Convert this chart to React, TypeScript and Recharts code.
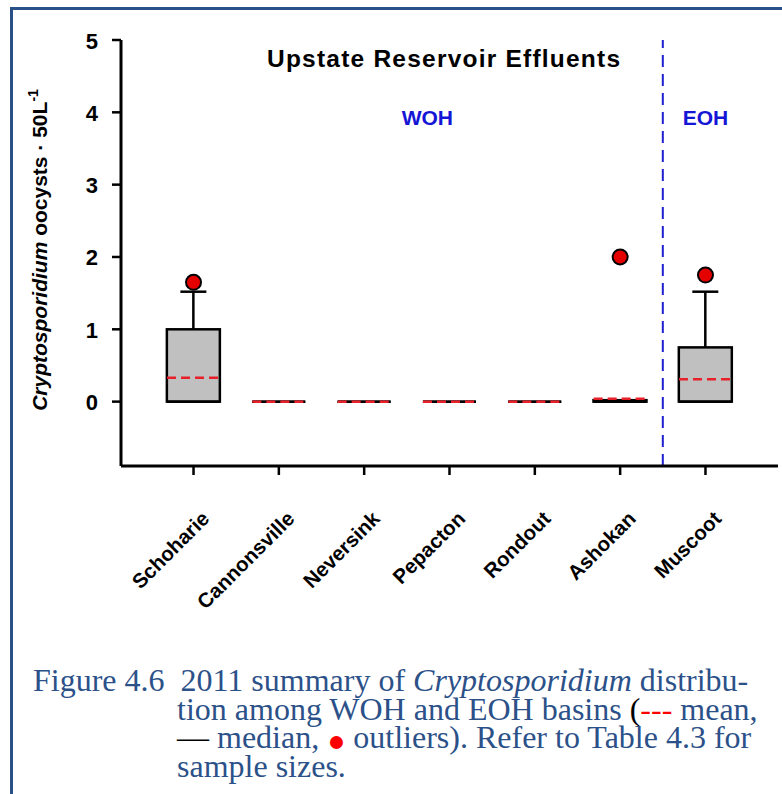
import { ComposedChart, Bar, Scatter, XAxis, YAxis, ReferenceLine, ReferenceDot } from 'recharts';

// reservoirs, WOH first then EOH
const reservoirs = ['Schoharie', 'Cannonsville', 'Neversink', 'Pepacton', 'Rondout', 'Ashokan', 'Muscoot'];
const q1Values = [0, 0, 0, 0, 0, 0, 0];
const q3Values = [1.0, 0, 0, 0, 0, 0.02, 0.75];
const whiskerTops = [1.52, 0, 0, 0, 0, 0.02, 1.52];
const medianValues = [0, 0, 0, 0, 0, 0, 0];
const meanValues = [0.33, 0, 0, 0, 0, 0.04, 0.31];

const outlierSites = ['Schoharie', 'Ashokan', 'Muscoot'];
const outlierValues = [1.65, 2.0, 1.75];

const yTicks = [0, 1, 2, 3, 4, 5];
const basinSplit = 5.5; // between Ashokan and Muscoot

const boxData = reservoirs.map((name, i) => ({
  idx: i,
  name,
  q1: q1Values[i],
  iqr: q3Values[i] - q1Values[i],
  whisk: Math.max(whiskerTops[i] - q3Values[i], 0),
  median: medianValues[i],
  mean: meanValues[i],
}));

const outlierData = outlierSites.map((s, i) => ({ idx: reservoirs.indexOf(s), value: outlierValues[i] }));

const SANS = "Arial, 'Liberation Sans', sans-serif";
const BOX_W = 53;

const BoxShape = (p: any) => {
  const { x, y, width, height } = p;
  if (!height) return <line x1={x} x2={x + width} y1={y} y2={y} stroke="#000" strokeWidth={2.5} />;
  return <rect x={x} y={y} width={width} height={height} fill="#c0c0c0" stroke="#000" strokeWidth={2.5} />;
};

const WhiskerShape = (p: any) => {
  const { x, y, width, height } = p;
  if (!height || height < 0.5) return <g />;
  const cx = x + width / 2;
  return (
    <g stroke="#000" strokeWidth={2.5}>
      <line x1={cx} x2={cx} y1={y} y2={y + height} />
      <line x1={cx - 13} x2={cx + 13} y1={y} y2={y} />
    </g>
  );
};

const MedianShape = (p: any) => (
  <line x1={p.cx - BOX_W / 2} x2={p.cx + BOX_W / 2} y1={p.cy} y2={p.cy} stroke="#000" strokeWidth={2.5} />
);

const MeanShape = (p: any) => (
  <line x1={p.cx - BOX_W / 2} x2={p.cx + BOX_W / 2} y1={p.cy} y2={p.cy} stroke="#e8202a" strokeWidth={2.5} strokeDasharray="9 5" />
);

const OutlierShape = (p: any) => (
  <circle cx={p.cx} cy={p.cy} r={7.5} fill="#e50000" stroke="#000" strokeWidth={2} />
);

const XTick = ({ x, y, payload }: any) => {
  const ax = x + 17;
  const ay = y + 45;
  return (
    <text x={ax} y={ay} transform={`rotate(-45 ${ax} ${ay})`} textAnchor="end"
      fontFamily={SANS} fontWeight="bold" fontSize={20.5} fill="#000">
      {reservoirs[payload.value]}
    </text>
  );
};

const YTick = ({ x, y, payload }: any) => (
  <text x={x} y={y + 8.5} textAnchor="end" fontFamily={SANS} fontWeight="bold" fontSize={22} fill="#000">
    {payload.value}
  </text>
);

const renderYLabel = () => {
  const cx = 47;
  const cy = 250;
  return (
    <text x={cx} y={cy} transform={`rotate(-90 ${cx} ${cy})`} textAnchor="middle"
      fontFamily={SANS} fontWeight="bold" fontSize={21} fill="#000">
      <tspan fontStyle="italic">Cryptosporidium</tspan> oocysts · 50L
      <tspan dy={-9} fontSize={14}>-1</tspan>
    </text>
  );
};

const titleLabel = ({ viewBox }: any) => (
  <text x={viewBox.x + viewBox.width / 2} y={viewBox.y + viewBox.height / 2 + 8.5} textAnchor="middle"
    fontFamily={SANS} fontWeight="bold" fontSize={24.5} fill="#000" textLength={353} lengthAdjust="spacing">
    Upstate Reservoir Effluents
  </text>
);

const basinLabel = (text: string) => ({ viewBox }: any) => (
  <text x={viewBox.x + viewBox.width / 2} y={viewBox.y + viewBox.height / 2 + 8} textAnchor="middle"
    fontFamily={SANS} fontWeight="bold" fontSize={21} fill="#1515d6">
    {text}
  </text>
);

export default function App() {
  return (
    <div style={{ position: 'absolute', left: 0, top: 0, width: 782, height: 794, background: '#fff', overflow: 'hidden' }}>
      {/* page frame */}
      <div style={{ position: 'absolute', left: 10, top: 7, width: 772, height: 3, background: '#2a5088' }} />
      <div style={{ position: 'absolute', left: 10, top: 7, width: 3, height: 787, background: '#2a5088' }} />

      <div style={{ position: 'absolute', left: 0, top: 0 }}>
        <ComposedChart width={782} height={620} data={boxData} margin={{ top: 40, right: 4, left: 0, bottom: 0 }}>
          <XAxis dataKey="idx" type="number" domain={[-0.85, 6.85]} ticks={[0, 1, 2, 3, 4, 5, 6]} interval={0}
            height={154} tickSize={9} tickMargin={0} tick={<XTick />}
            axisLine={{ stroke: '#000', strokeWidth: 3 }} tickLine={{ stroke: '#000', strokeWidth: 2.5 }} />
          <XAxis xAxisId="top" orientation="top" type="number" domain={[-0.85, 6.85]} height={0}
            tick={false} tickLine={false} axisLine={{ stroke: '#000', strokeWidth: 3 }} />
          <YAxis type="number" domain={[-0.89, 5]} ticks={yTicks} interval={0} width={121}
            tickSize={9} tickMargin={14} tick={<YTick />} label={renderYLabel}
            axisLine={{ stroke: '#000', strokeWidth: 3 }} tickLine={{ stroke: '#000', strokeWidth: 2.5 }} />
          <YAxis yAxisId="right" orientation="right" type="number" domain={[-0.89, 5]} width={0}
            tick={false} tickLine={false} axisLine={{ stroke: '#000', strokeWidth: 3 }} />

          <ReferenceLine x={basinSplit} stroke="#2020d0" strokeWidth={2} strokeDasharray="12 7" />

          <Bar dataKey="q1" stackId="box" fill="none" barSize={BOX_W} isAnimationActive={false} />
          <Bar dataKey="iqr" stackId="box" barSize={BOX_W} shape={BoxShape} isAnimationActive={false} />
          <Bar dataKey="whisk" stackId="box" barSize={BOX_W} shape={WhiskerShape} isAnimationActive={false} />

          <Scatter dataKey="median" shape={MedianShape} isAnimationActive={false} />
          <Scatter dataKey="mean" shape={MeanShape} isAnimationActive={false} />
          <Scatter data={outlierData} dataKey="value" shape={OutlierShape} isAnimationActive={false} />

          <ReferenceDot x={2.93} y={4.74} r={0} fill="none" stroke="none" label={titleLabel} />
          <ReferenceDot x={2.74} y={3.94} r={0} fill="none" stroke="none" label={basinLabel('WOH')} />
          <ReferenceDot x={6.0} y={3.94} r={0} fill="none" stroke="none" label={basinLabel('EOH')} />
        </ComposedChart>
      </div>

      <div style={{
        position: 'absolute', left: 33, top: 666, fontFamily: "'Liberation Serif', 'Times New Roman', serif",
        fontSize: 32, lineHeight: '28.5px', color: '#2c5189', paddingLeft: 144, textIndent: -144, whiteSpace: 'nowrap',
      }}>
        Figure 4.6{'\u00a0\u00a0'}2011 summary of <i>Cryptosporidium</i> distribu-<br />
        tion among WOH and EOH basins <span style={{ color: '#000' }}>(</span><span style={{ color: '#ff0000' }}>---</span> mean,<br />
        <span style={{ color: '#000' }}>—</span> median, <span style={{ color: '#ff0000', fontSize: 30, lineHeight: '20px', verticalAlign: 'middle' }}>●</span> outliers). Refer to Table 4.3 for<br />
        sample sizes.
      </div>
    </div>
  );
}
